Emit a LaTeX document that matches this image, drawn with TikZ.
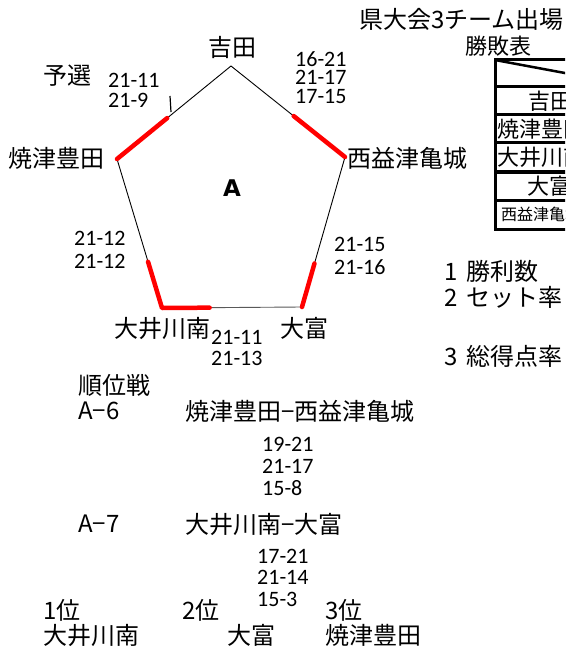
\documentclass[tikz,border=0pt]{standalone}
\usepackage{fontspec}
\setmainfont{Noto Sans CJK JP}
\newfontfamily\scorefont{Carlito}
\newfontfamily\boldsans{DejaVu Sans}
\usetikzlibrary{calc}
\begin{document}
\begin{tikzpicture}[x=1pt,y=-1pt,
  jp/.style={inner sep=0pt, anchor=west, font=\fontsize{24}{28}\selectfont},
  jps/.style={inner sep=0pt, anchor=west, font=\fontsize{22}{26}\selectfont},
  score/.style={inner sep=0pt, anchor=west, font=\scorefont\fontsize{22}{26}\selectfont},
  edgeline/.style={black, line width=0.9pt},
  hit/.style={red, line width=4.5pt, line cap=round, line join=round},
  tbl/.style={line width=3pt}]
\useasboundingbox (0,0) rectangle (565,663);
\clip (0,0) rectangle (565,663);
\fill[white] (0,0) rectangle (565,663);

% pentagon
\coordinate (T) at (231,66);
\coordinate (L) at (117,159);
\coordinate (R) at (345,157);
\coordinate (BL) at (162,308);
\coordinate (BR) at (302,307);
\draw[edgeline] (L) -- (T) -- (R) -- (BR);
\draw[edgeline, black!65] (BR) -- (BL);
\draw[edgeline] (BL) -- (L);
\draw[hit] (L) -- ($(L)!0.44!(T)$);
\draw[hit] (R) -- ($(R)!0.45!(T)$);
\draw[hit] ($(BL)!0.31!(L)$) -- (BL) -- ($(BL)!0.34!(BR)$);
\draw[hit] (BR) -- ($(BR)!0.29!(R)$);
\coordinate (tk1) at (170,96);
\coordinate (tk2) at (171,112);
\draw[line width=1.2pt] (tk1) -- (tk2);

% labels around pentagon
\node[jp, anchor=center] (yoshida) at (232.5,47) {吉田};
\node[jp] (yosen) at (43,76) {予選};
\node[score] (p1a) at (108,80) {21-11};
\node[score] (p1b) at (108,100) {21-9};
\node[score] (p2a) at (295,59) {16-21};
\node[score] (p2b) at (295,77.5) {21-17};
\node[score] (p2c) at (295,96) {17-15};
\node[jp] (yaizu) at (8,158) {焼津豊田};
\node[jp] (nishi) at (347,158) {西益津亀城};
\node[inner sep=0pt, font=\boldsans\bfseries\fontsize{23}{26}\selectfont] (A) at (232,188) {A};
\node[score] (p3a) at (74,238) {21-12};
\node[score] (p3b) at (74,261) {21-12};
\node[score] (p4a) at (334,244) {21-15};
\node[score] (p4b) at (334,267) {21-16};
\node[jp] (oi) at (114,328) {大井川南};
\node[jp] (ohtomi) at (280,328) {大富};
\node[score] (p5a) at (211,337) {21-11};
\node[score] (p5b) at (211,358) {21-13};

% title and table
\node[inner sep=0pt, anchor=west, font=\fontsize{24}{28}\selectfont] (title) at (359,19) {県大会3チーム出場};
\node[jps] (hyo) at (465,46) {勝敗表};
\draw[tbl] (495,60) rectangle (640,229);
\foreach \yy in {87,115,143,172,200} \draw[tbl] (495,\yy) -- (640,\yy);
\draw[line width=2.5pt] (495,60) -- (640,87);
\node[jps] (t1) at (528,101) {吉田};
\node[jps] (t2) at (497,129) {焼津豊田};
\node[jps] (t3) at (497,157) {大井川南};
\node[jps] (t4) at (527,186) {大富};
\node[inner sep=0pt, anchor=west, font=\fontsize{16}{19}\selectfont] (t5) at (501,214) {西益津亀城};

% legend
\node[jp] (leg1) at (444,271) {1\hspace{9pt}勝利数};
\node[jp] (leg2) at (444,297) {2\hspace{9pt}セット率};
\node[jp] (leg3) at (444,356) {3\hspace{9pt}総得点率};

% ranking matches
\node[jp] (junisen) at (78,385) {順位戦};
\node[jp] (a6) at (78,411) {A−6};
\node[jp] (m6) at (185,411) {焼津豊田−西益津亀城};
\node[score] (q1a) at (262,444.5) {19-21};
\node[score] (q1b) at (262,466) {21-17};
\node[score] (q1c) at (262,488) {15-8};
\node[jp] (a7) at (78,524) {A−7};
\node[jp] (m7) at (185,524) {大井川南−大富};
\node[score] (q2a) at (257,556) {17-21};
\node[score] (q2b) at (257,577) {21-14};
\node[score] (q2c) at (257,599) {15-3};
\node[jp] (r1) at (43,610) {1位};
\node[jp] (r2) at (182,610) {2位};
\node[jp] (r3) at (325,610) {3位};
\node[jp] (n1) at (43,635) {大井川南};
\node[jp] (n2) at (227,635) {大富};
\node[jp] (n3) at (325,635) {焼津豊田};
\end{tikzpicture}
\end{document}
